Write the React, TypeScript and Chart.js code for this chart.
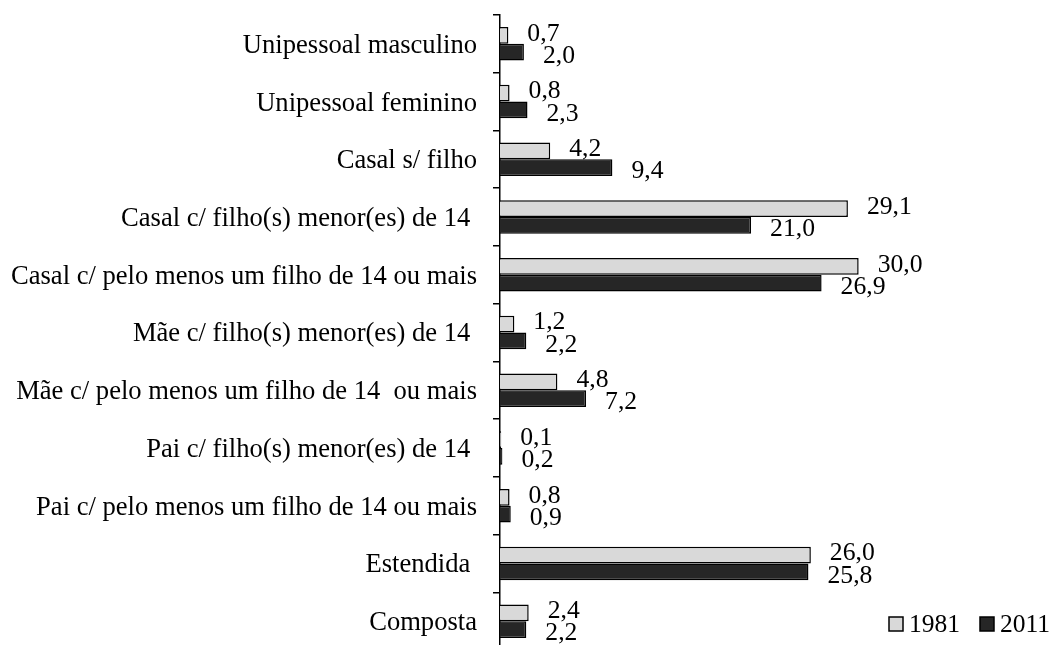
import React, { useEffect, useRef } from "react";
import { Chart, registerables } from "chart.js";

Chart.register(...registerables);

const categories = [
  "Unipessoal masculino",
  "Unipessoal feminino",
  "Casal s/ filho",
  "Casal c/ filho(s) menor(es) de 14 ",
  "Casal c/ pelo menos um filho de 14 ou mais",
  "Mãe c/ filho(s) menor(es) de 14 ",
  "Mãe c/ pelo menos um filho de 14  ou mais",
  "Pai c/ filho(s) menor(es) de 14 ",
  "Pai c/ pelo menos um filho de 14 ou mais",
  "Estendida ",
  "Composta",
];

const values1981 = [0.7, 0.8, 4.2, 29.1, 30.0, 1.2, 4.8, 0.1, 0.8, 26.0, 2.4];
const values2011 = [2.0, 2.3, 9.4, 21.0, 26.9, 2.2, 7.2, 0.2, 0.9, 25.8, 2.2];

const seriesNames = ["1981", "2011"];
const seriesColors = ["#d9d9d9", "#262626"];

const SERIF = "'Liberation Serif', 'Times New Roman', serif";

const fmt = (v: number) => v.toFixed(1).replace(".", ",");

const labelPlugin = {
  id: "valueLabels",
  afterDatasetsDraw(chart: any) {
    const ctx = chart.ctx;
    ctx.save();
    ctx.font = `25.7px ${SERIF}`;
    ctx.fillStyle = "#000";
    ctx.textAlign = "left";
    ctx.textBaseline = "middle";
    const yOff = [-1.5, 4];
    chart.data.datasets.forEach((ds: any, di: number) => {
      const meta = chart.getDatasetMeta(di);
      meta.data.forEach((el: any, i: number) => {
        ctx.fillText(fmt(ds.data[i]), el.x + 19, el.y + yOff[di]);
      });
    });
    ctx.restore();
  },
};

const legendPlugin = {
  id: "customLegend",
  afterDraw(chart: any) {
    const ctx = chart.ctx;
    ctx.save();
    ctx.font = `25.5px ${SERIF}`;
    ctx.textBaseline = "middle";
    ctx.textAlign = "left";
    let x = 889;
    const yTop = 617;
    const box = 14;
    chart.data.datasets.forEach((ds: any) => {
      ctx.fillStyle = ds.backgroundColor;
      ctx.fillRect(x, yTop, box, box);
      ctx.strokeStyle = "#000";
      ctx.lineWidth = 1.5;
      ctx.strokeRect(x, yTop, box, box);
      x += box + 6;
      ctx.fillStyle = "#000";
      ctx.fillText(ds.label, x, yTop + box / 2 + 1);
      x += ctx.measureText(ds.label).width + 20;
    });
    ctx.restore();
  },
};

export default function App() {
  const ref = useRef<HTMLCanvasElement | null>(null);

  useEffect(() => {
    if (!ref.current) return;
    const chart = new Chart(ref.current, {
      type: "bar",
      data: {
        labels: categories,
        datasets: [
          {
            label: seriesNames[0],
            data: values1981,
            backgroundColor: seriesColors[0],
            borderColor: "#000",
            borderWidth: 1.5,
            categoryPercentage: 0.58,
            barPercentage: 1.0,
          },
          {
            label: seriesNames[1],
            data: values2011,
            backgroundColor: seriesColors[1],
            borderColor: "#000",
            borderWidth: 1.5,
            categoryPercentage: 0.58,
            barPercentage: 1.0,
          },
        ],
      },
      options: {
        indexAxis: "y",
        responsive: false,
        animation: false,
        devicePixelRatio: 1,
        layout: { padding: { top: 15, bottom: 10, left: 0, right: 14 } },
        plugins: {
          legend: { display: false },
          tooltip: { enabled: false },
        },
        scales: {
          x: { display: false, min: 0, max: 45 },
          y: {
            afterFit: (s: any) => {
              s.width = 500;
              s.paddingTop = 0;
              s.paddingBottom = 0;
            },
            border: { display: true, color: "#000", width: 1.5 },
            grid: {
              display: true,
              drawOnChartArea: false,
              drawTicks: true,
              tickLength: 7,
              color: "#000",
              lineWidth: 1.5,
              offset: true,
            },
            ticks: {
              color: "#000",
              padding: 16,
              labelOffset: 2,
              font: { family: SERIF, size: 26.6 },
              autoSkip: false,
            },
          },
        },
      },
      plugins: [labelPlugin, legendPlugin],
    });
    return () => chart.destroy();
  }, []);

  return (
    <div style={{ position: "absolute", left: 0, top: 0, width: 1052, height: 660, background: "#fff" }}>
      <canvas ref={ref} width={1052} height={660} style={{ display: "block" }} />
    </div>
  );
}
